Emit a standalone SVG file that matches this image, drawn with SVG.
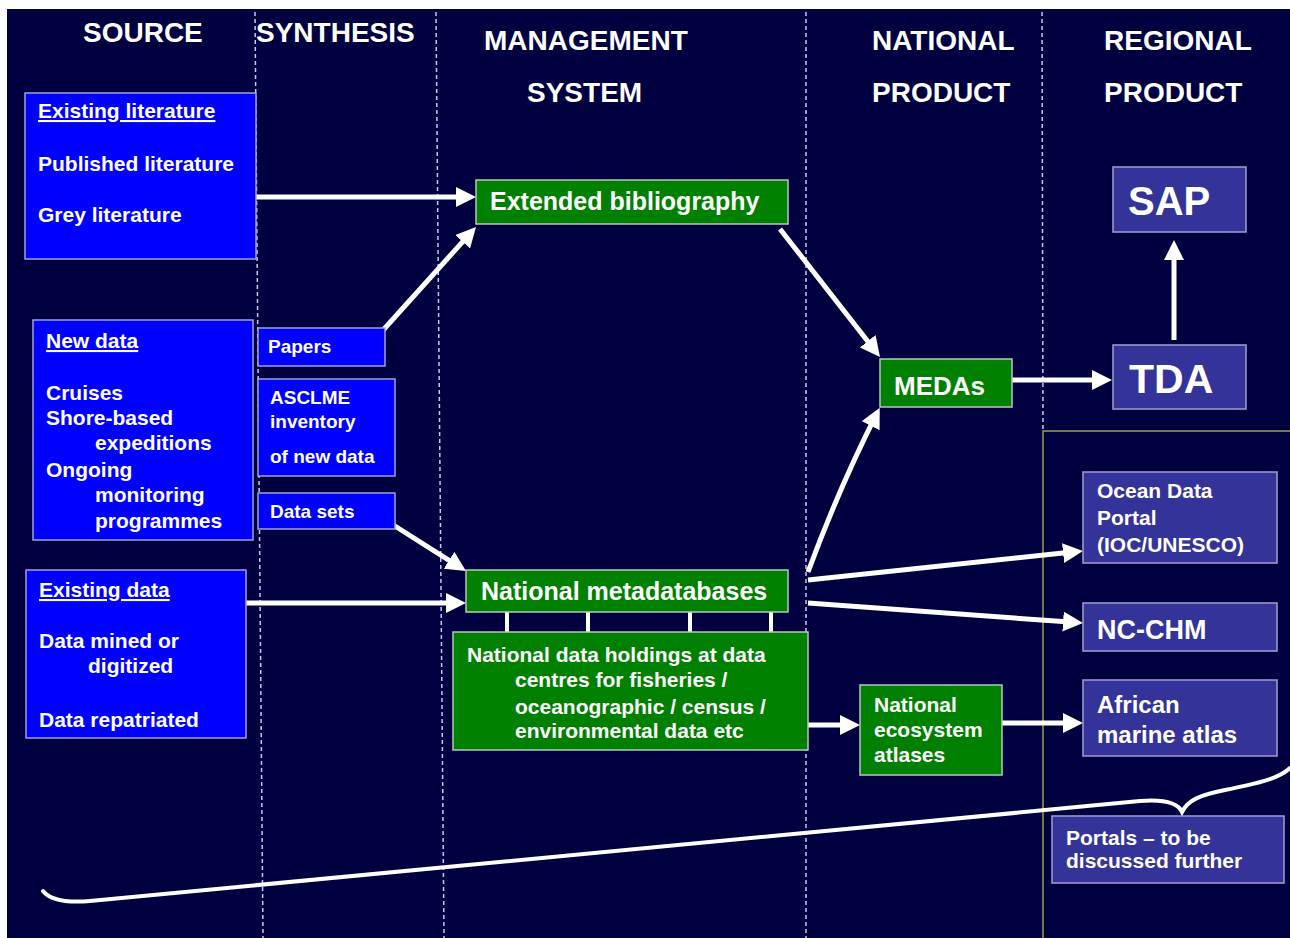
<svg xmlns="http://www.w3.org/2000/svg" width="1290" height="938" viewBox="0 0 1290 938">
<style>
text{font-family:"Liberation Sans",Arial,sans-serif;font-weight:bold;fill:#ffffff}
.hdr{font-size:28px}
.t21{font-size:21px}
.t19{font-size:19px}
.ul{text-decoration:underline}
.blue{fill:#0000ff;stroke:#a0a0d8;stroke-width:1.5}
.green{fill:#008000;stroke:#b8c8b8;stroke-width:1.5}
.indigo{fill:#333399;stroke:#a0a0d0;stroke-width:1.5}
.dash{stroke:#c8c8e8;stroke-width:1.5;stroke-dasharray:4 3;fill:none}
.conn{stroke:#ffffff;stroke-width:5;fill:none}
.tick{stroke:#ffffff;stroke-width:4}
</style>
<defs>
<marker id="ah" markerUnits="userSpaceOnUse" markerWidth="20" markerHeight="20" viewBox="0 0 20 20" refX="14" refY="10" orient="auto">
<path d="M0,0 L20,10 L0,20 z" fill="#ffffff"/>
</marker>
</defs>
<rect x="0" y="0" width="1290" height="938" fill="#ffffff"/>
<rect x="7" y="9" width="1283" height="929" fill="#000040"/>
<g id="grid">
<line class="dash" x1="255" y1="12" x2="263" y2="938"/>
<line class="dash" x1="436" y1="12" x2="444" y2="938"/>
<line class="dash" x1="806" y1="12" x2="806" y2="938"/>
<line class="dash" x1="1042" y1="12" x2="1043" y2="431"/>
<path d="M1290,431 H1043 V938" fill="none" stroke="#a0a040" stroke-width="1.5"/>
</g>
<g id="headers">
<text class="hdr" x="83" y="42">SOURCE</text>
<text class="hdr" x="256" y="42">SYNTHESIS</text>
<text class="hdr" x="484" y="50">MANAGEMENT</text>
<text class="hdr" x="527" y="102">SYSTEM</text>
<text class="hdr" x="872" y="50">NATIONAL</text>
<text class="hdr" x="872" y="102">PRODUCT</text>
<text class="hdr" x="1104" y="50">REGIONAL</text>
<text class="hdr" x="1104" y="102">PRODUCT</text>
</g>
<g id="connectors">
<line class="conn" x1="256" y1="197" x2="470" y2="197" marker-end="url(#ah)"/>
<line class="conn" x1="376" y1="338" x2="472" y2="231.4" marker-end="url(#ah)"/>
<line class="conn" x1="780" y1="229" x2="876.3" y2="352.3" marker-end="url(#ah)"/>
<line class="conn" x1="387" y1="521" x2="460.9" y2="567.8" marker-end="url(#ah)"/>
<line class="conn" x1="246" y1="603" x2="460" y2="603" marker-end="url(#ah)"/>
<path class="conn" d="M808,572 Q839,488 877,413.2" marker-end="url(#ah)"/>
<line class="conn" x1="808" y1="580" x2="1077" y2="551.6" marker-end="url(#ah)"/>
<line class="conn" x1="808" y1="603" x2="1077" y2="622.6" marker-end="url(#ah)"/>
<line class="conn" x1="808" y1="725" x2="854" y2="725" marker-end="url(#ah)"/>
<line class="conn" x1="1002" y1="723" x2="1077" y2="723" marker-end="url(#ah)"/>
<line class="conn" x1="1012" y1="380" x2="1106" y2="380" marker-end="url(#ah)"/>
<line class="conn" x1="1174" y1="340" x2="1174" y2="246" marker-end="url(#ah)"/>
<line class="tick" x1="507" y1="612" x2="507" y2="633"/>
<line class="tick" x1="588" y1="612" x2="588" y2="633"/>
<line class="tick" x1="690" y1="612" x2="690" y2="633"/>
<line class="tick" x1="771" y1="612" x2="771" y2="633"/>
<path d="M43,891 C50,900 66,903 90,901 L1140,801 C1165,799 1178,803 1182,812 C1188,800 1200,795 1225,790 C1260,783 1280,778 1290,768" fill="none" stroke="#ffffff" stroke-width="4" stroke-linecap="round"/>
</g>
<g id="existing-literature">
<rect class="blue" x="25" y="93" width="231" height="166"/>
<text class="t21 ul" x="38" y="118">Existing literature</text>
<text class="t21" x="38" y="171">Published literature</text>
<text class="t21" x="38" y="222">Grey literature</text>
</g>
<g id="new-data">
<rect class="blue" x="33" y="320" width="220" height="220"/>
<text class="t21 ul" x="46" y="348">New data</text>
<text class="t21" x="46" y="400">Cruises</text>
<text class="t21" x="46" y="425">Shore-based</text>
<text class="t21" x="95" y="450">expeditions</text>
<text class="t21" x="46" y="477">Ongoing</text>
<text class="t21" x="95" y="502">monitoring</text>
<text class="t21" x="95" y="528">programmes</text>
</g>
<g id="existing-data">
<rect class="blue" x="26" y="570" width="220" height="168"/>
<text class="t21 ul" x="39" y="597">Existing data</text>
<text class="t21" x="39" y="648">Data mined or</text>
<text class="t21" x="88" y="673">digitized</text>
<text class="t21" x="39" y="727">Data repatriated</text>
</g>
<g id="papers">
<rect class="blue" x="258" y="328" width="127" height="38"/>
<text class="t19" x="268" y="353">Papers</text>
</g>
<g id="asclme">
<rect class="blue" x="258" y="379" width="137" height="97"/>
<text class="t19" x="270" y="404">ASCLME</text>
<text class="t19" x="270" y="428">inventory</text>
<text class="t19" x="270" y="463">of new data</text>
</g>
<g id="data-sets">
<rect class="blue" x="258" y="493" width="137" height="36"/>
<text class="t19" x="270" y="518">Data sets</text>
</g>
<g id="extended-bibliography">
<rect class="green" x="476" y="180" width="312" height="44"/>
<text x="490" y="210" font-size="25">Extended bibliography</text>
</g>
<g id="national-metadatabases">
<rect class="green" x="466" y="570" width="322" height="42"/>
<text x="481" y="600" font-size="25">National metadatabases</text>
</g>
<g id="national-data-holdings">
<rect class="green" x="453" y="632" width="355" height="118"/>
<text class="t21" x="467" y="662">National data holdings at data</text>
<text class="t21" x="515" y="687">centres for fisheries /</text>
<text class="t21" x="515" y="714">oceanographic / census /</text>
<text class="t21" x="515" y="738">environmental data etc</text>
</g>
<g id="national-ecosystem-atlases">
<rect class="green" x="860" y="685" width="142" height="90"/>
<text class="t21" x="874" y="712">National</text>
<text class="t21" x="874" y="737">ecosystem</text>
<text class="t21" x="874" y="762">atlases</text>
</g>
<g id="medas">
<rect class="green" x="880" y="359" width="132" height="48"/>
<text x="894" y="395" font-size="26">MEDAs</text>
</g>
<g id="sap">
<rect class="indigo" x="1113" y="167" width="133" height="65"/>
<text x="1128" y="215" font-size="40">SAP</text>
</g>
<g id="tda">
<rect class="indigo" x="1113" y="345" width="133" height="64"/>
<text x="1129" y="393" font-size="41">TDA</text>
</g>
<g id="ocean-data-portal">
<rect class="indigo" x="1083" y="472" width="194" height="91"/>
<text class="t21" x="1097" y="498">Ocean Data</text>
<text class="t21" x="1097" y="525">Portal</text>
<text class="t21" x="1097" y="552">(IOC/UNESCO)</text>
</g>
<g id="nc-chm">
<rect class="indigo" x="1083" y="603" width="194" height="48"/>
<text x="1097" y="639" font-size="27">NC-CHM</text>
</g>
<g id="african-marine-atlas">
<rect class="indigo" x="1083" y="680" width="194" height="76"/>
<text x="1097" y="713" font-size="24">African</text>
<text x="1097" y="743" font-size="24">marine atlas</text>
</g>
<g id="portals">
<rect class="indigo" x="1052" y="816" width="232" height="67"/>
<text class="t21" x="1066" y="845">Portals – to be</text>
<text class="t21" x="1066" y="868">discussed further</text>
</g>
</svg>
